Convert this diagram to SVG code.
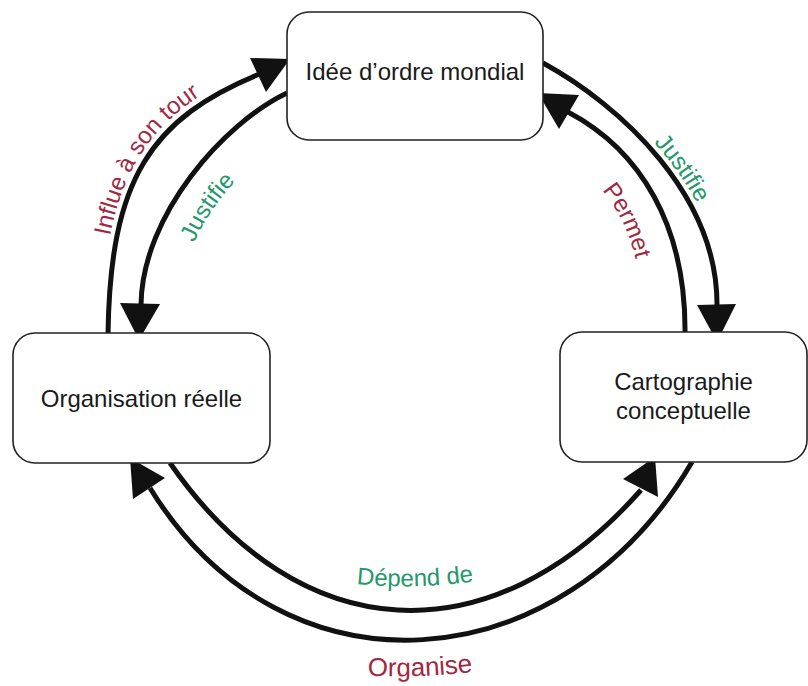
<svg xmlns="http://www.w3.org/2000/svg" xmlns:xlink="http://www.w3.org/1999/xlink" width="808" height="686" viewBox="0 0 808 686">
<style>
.box{fill:#fff;stroke:#222;stroke-width:1.6}
.ntext{font-family:"Liberation Sans",Arial,sans-serif;font-size:24px;fill:#1a1a1a;text-anchor:middle}
.line{fill:none;stroke:#111;stroke-width:5;stroke-linecap:butt}
.head{fill:#111;stroke:none}
.lbl{font-family:"Liberation Sans",Arial,sans-serif;font-size:24px;text-anchor:middle}
.red{fill:#a2283f}
.green{fill:#23986a}
</style>
<defs>
<path id="tp-influe" d="M 101,335 C 103,178 145,112 259,66"/>
<path id="tp-justL" d="M 181,305 C 178,231 248,155 304,129"/>
<path id="tp-justR" d="M 546,57 C 625,100 724,193 724,305"/>
<path id="tp-permet" d="M 547,148 C 606,175 645,233 643,333"/>
<path id="tp-depend" d="M 300,575 Q 415,600 530,570"/>
<path id="tp-organise" d="M 310,670 Q 420,686 530,662"/>
</defs>
<rect width="808" height="686" fill="#fff"/>
<g id="connectors">
<g id="c-influe">
<path class="line" d="M 108,335 C 110,180 150,118 262,73"/>
<polygon class="head" points="250,58 266,92 290,59"/>
<text class="lbl red"><textPath xlink:href="#tp-influe" href="#tp-influe" startOffset="55%">Influe à son tour</textPath></text>
</g>
<g id="c-justifie-left">
<path class="line" d="M 287,93 C 224,123 142,215 141,305"/>
<polygon class="head" points="120,303 160,304 139,340"/>
<text class="lbl green"><textPath xlink:href="#tp-justL" href="#tp-justL" startOffset="45%">Justifie</textPath></text>
</g>
<g id="c-justifie-right">
<path class="line" d="M 543,63 C 620,105 718,195 717,306"/>
<polygon class="head" points="697,305 736,304 717,342"/>
<text class="lbl green"><textPath xlink:href="#tp-justR" href="#tp-justR" startOffset="55%">Justifie</textPath></text>
</g>
<g id="c-permet">
<path class="line" d="M 685,333 C 686,225 640,150 568,112"/>
<polygon class="head" points="538,93 579,95 559,129"/>
<text class="lbl red"><textPath xlink:href="#tp-permet" href="#tp-permet" startOffset="49%">Permet</textPath></text>
</g>
<g id="c-depend">
<path class="line" d="M 170,463 C 299,649 491,660 641,490"/>
<polygon class="head" points="655,457 623,479 658,497"/>
<text class="lbl green"><textPath xlink:href="#tp-depend" href="#tp-depend" startOffset="50%">Dépend de</textPath></text>
</g>
<g id="c-organise">
<path class="line" d="M 692,462 C 563,683 284,706 150,488"/>
<polygon class="head" points="130,458 165,478 133,499"/>
<text class="lbl red" style="font-size:26px"><textPath xlink:href="#tp-organise" href="#tp-organise" startOffset="50%">Organise</textPath></text>
</g>
</g>
<g id="node-idee">
<rect class="box" x="287" y="12" width="256" height="128" rx="22"/>
<text class="ntext" x="415" y="80">Idée d’ordre mondial</text>
</g>
<g id="node-organisation">
<rect class="box" x="13" y="333" width="257" height="130" rx="22"/>
<text class="ntext" x="141.5" y="407">Organisation réelle</text>
</g>
<g id="node-cartographie">
<rect class="box" x="560" y="332" width="247" height="130" rx="22"/>
<text class="ntext" x="683.5" y="390">Cartographie</text>
<text class="ntext" x="683.5" y="419">conceptuelle</text>
</g>
</svg>
